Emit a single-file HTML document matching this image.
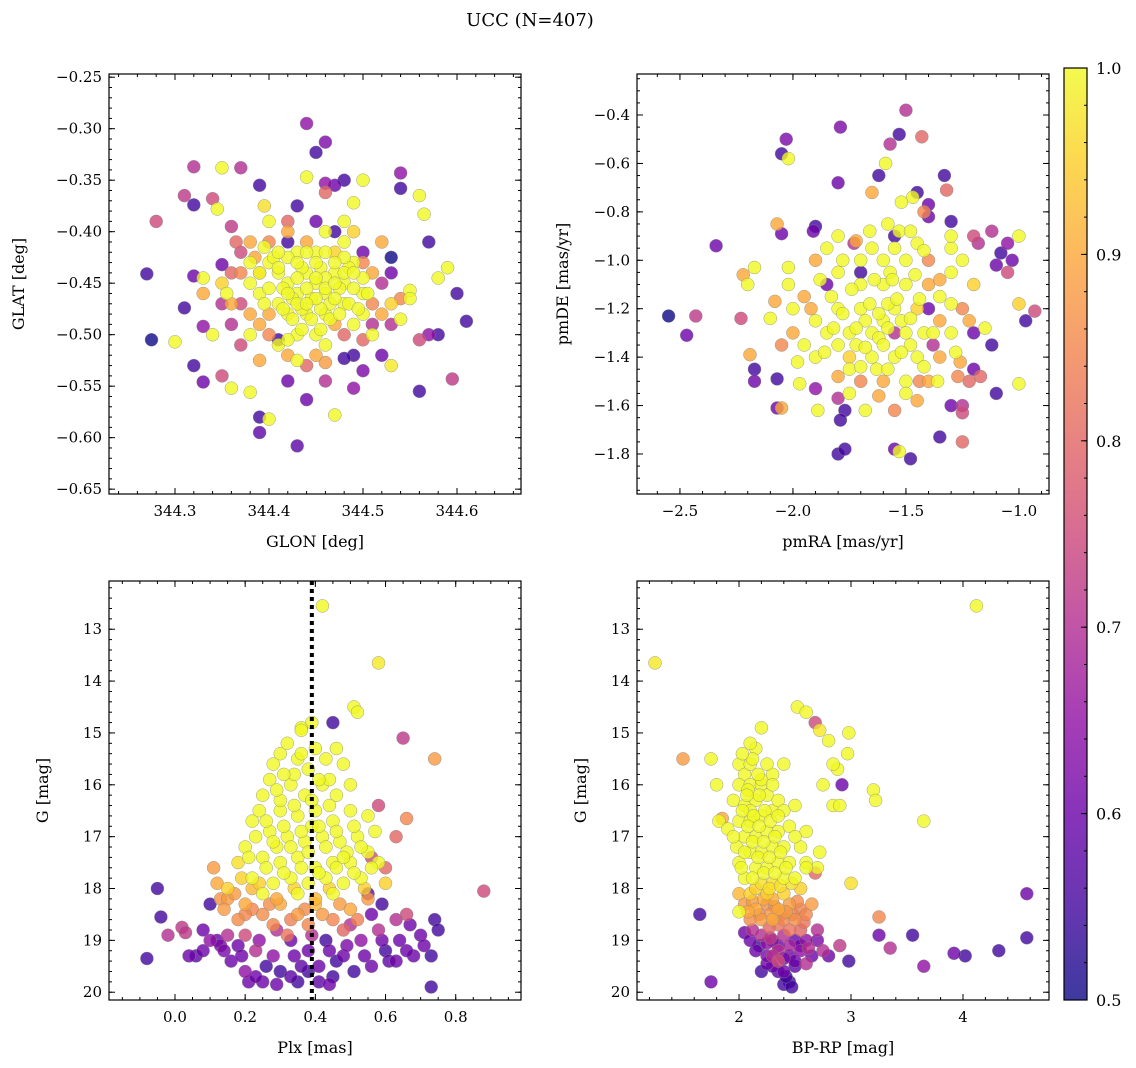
<!DOCTYPE html>
<html><head><meta charset="utf-8"><style>
body{margin:0;background:#fff}
svg{display:block;font-family:"DejaVu Serif","Liberation Serif",serif}
</style></head><body>
<svg id="fig" width="1136" height="1068" viewBox="0 0 1136 1068">
<text x="530" y="26" font-size="18" text-anchor="middle">UCC (N=407)</text>
<g id="root"></g>
</svg>
<script>
// ---------- DATA ----------
const p1Glon=[344.44,344.45,344.46,344.32,344.31,344.32,344.35,344.37,344.34,344.345,344.28,344.39,344.395,344.40,344.36,344.27,344.32,344.33,344.35,344.31,344.33,344.275,344.30,344.32,344.33,344.35,344.36,344.37,344.38,344.39,344.40,344.39,344.43,344.44,344.46,344.47,344.49,344.49,344.50,344.53,344.56,344.595,344.61,344.6,344.58,344.59,344.57,344.53,344.55,344.55,344.56,344.565,344.54,344.54,344.50,344.48,344.47,344.46,344.44,344.46,344.49,344.48,344.43,344.42,344.57,344.56,344.58,344.53,344.54,344.52,344.48,344.46,344.5,344.51,344.42,344.43,344.41,344.38,344.355,344.36,344.37,344.38,344.39,
344.40,344.41,344.42,344.43,344.44,344.45,344.46,344.47,344.48,344.49,344.43,344.45,344.47,344.41,344.42,344.44,344.46,344.48,344.50,344.51,344.52,344.39,344.40,344.38,344.43,344.45,344.47,344.44,344.46,344.42,344.40,344.48,344.50,344.51,344.50,344.41,344.39,344.37,344.36,344.435,344.455,344.445,344.425,344.465,344.415,344.475,344.435,344.455,344.485,344.405,344.395,344.49,344.52,344.53,344.42,344.44,344.38,344.35,344.34,344.45];
const p1Glat=[-0.295,-0.323,-0.313,-0.337,-0.365,-0.374,-0.338,-0.338,-0.368,-0.378,-0.39,-0.355,-0.375,-0.39,-0.395,-0.441,-0.443,-0.445,-0.432,-0.474,-0.492,-0.505,-0.507,-0.53,-0.546,-0.54,-0.552,-0.51,-0.556,-0.58,-0.582,-0.595,-0.608,-0.563,-0.545,-0.578,-0.552,-0.52,-0.535,-0.53,-0.555,-0.543,-0.487,-0.46,-0.445,-0.435,-0.41,-0.425,-0.457,-0.465,-0.365,-0.383,-0.343,-0.358,-0.35,-0.35,-0.355,-0.353,-0.347,-0.362,-0.372,-0.39,-0.375,-0.41,-0.5,-0.505,-0.5,-0.49,-0.485,-0.52,-0.523,-0.527,-0.505,-0.5,-0.545,-0.525,-0.505,-0.5,-0.46,-0.47,-0.42,-0.43,-0.44,
-0.43,-0.44,-0.45,-0.46,-0.44,-0.45,-0.46,-0.44,-0.45,-0.43,-0.42,-0.42,-0.42,-0.47,-0.48,-0.48,-0.48,-0.47,-0.46,-0.44,-0.45,-0.46,-0.48,-0.45,-0.50,-0.50,-0.49,-0.41,-0.40,-0.40,-0.41,-0.41,-0.42,-0.47,-0.48,-0.51,-0.49,-0.47,-0.44,-0.435,-0.435,-0.465,-0.465,-0.47,-0.455,-0.455,-0.475,-0.475,-0.435,-0.425,-0.47,-0.49,-0.41,-0.47,-0.52,-0.53,-0.41,-0.47,-0.50,-0.39];
const p1Prob=[0.65,0.55,0.62,0.7,0.72,0.55,1,0.7,0.75,1,0.75,0.55,0.97,1,0.72,0.55,0.6,1,0.6,0.55,0.65,0.5,1,0.55,0.6,0.75,1,0.75,1,0.55,1,0.58,0.58,0.6,0.7,1,0.65,0.55,0.62,0.98,0.55,0.72,0.55,0.55,1,1,0.55,0.5,1,1,1,1,0.65,0.55,1,0.55,0.6,0.65,1,0.8,1,1,0.55,0.55,0.65,0.75,0.55,0.7,1,0.6,0.55,0.88,0.8,1,0.6,1,0.55,1,1,0.9,0.75,1,0.9,
1,1,1,1,1,1,1,1,1,1,1,1,0.95,1,1,1,1,1,1,0.9,0.7,1,0.9,1,1,1,0.9,0.9,1,0.9,0.85,1,0.6,0.85,1,1,0.9,0.75,0.8,1,1,1,1,1,1,1,1,1,1,1,1,1,0.9,0.95,0.9,0.8,0.9,0.7,1,0.6];
const p1GlonCore=[344.41,344.42,344.43,344.44,344.45,344.46,344.47,344.48,344.49,344.50,344.415,344.425,344.435,344.445,344.455,344.465,344.475,344.485,344.495,344.505,344.40,344.39,344.385,344.395,344.41,344.43,344.45,344.47,344.46,344.44,344.42,344.43,344.44,344.45,344.46,344.47,344.48,344.49,344.50,344.38,344.37,344.365,344.52,344.53,344.51,344.40,344.42,344.46,344.48,344.45,344.36,344.33,344.35,344.54,344.39,344.47,344.42,344.49];
const p1GlatCore=[-0.435,-0.425,-0.445,-0.455,-0.465,-0.445,-0.465,-0.425,-0.455,-0.445,-0.475,-0.485,-0.495,-0.485,-0.495,-0.485,-0.48,-0.47,-0.475,-0.46,-0.455,-0.44,-0.425,-0.415,-0.42,-0.43,-0.43,-0.43,-0.42,-0.42,-0.46,-0.47,-0.47,-0.445,-0.455,-0.45,-0.44,-0.44,-0.43,-0.48,-0.44,-0.41,-0.48,-0.44,-0.49,-0.50,-0.505,-0.51,-0.50,-0.52,-0.49,-0.46,-0.45,-0.465,-0.525,-0.40,-0.39,-0.40];
const p1ProbCore=[1,1,1,1,1,1,1,1,1,1,1,1,1,1,1,1,1,1,1,1,1,1,0.9,1,1,1,1,1,1,1,1,1,1,1,1,1,1,1,0.85,0.9,0.85,0.8,0.9,0.6,0.7,0.85,1,1,0.8,0.9,0.7,0.9,0.95,0.85,0.9,0.55,0.8,0.95];

const p2Pmra=[-1.50,-1.43,-1.53,-1.79,-2.03,-2.05,-2.02,-1.57,-1.59,-1.62,-1.80,-1.33,-1.32,-1.45,-1.47,-1.65,-1.52,-1.40,-1.42,-1.40,-1.30,-2.07,-2.05,-1.90,-1.91,-1.80,-1.73,-1.55,-1.53,-1.20,-1.12,-1.05,-1.00,-1.08,-1.18,-0.75,-2.34,-2.02,-2.17,-2.22,-2.20,-2.08,-2.55,-2.43,-2.47,-2.23,-2.10,-2.19,-2.17,-2.17,-2.07,-1.97,-1.90,-2.07,-2.05,-1.89,-1.80,-1.77,-1.79,-1.80,-1.77,-1.55,-1.53,-1.48,-1.35,-1.25,-1.25,-1.25,-1.30,-1.22,-1.20,-1.10,-1.00,-0.93,-0.97,-1.00,-0.80,-1.05,-1.10,-1.03,-1.25,-1.30,-1.20,-1.12,-1.15,-1.17,-1.27,-1.38,
-1.6,-1.55,-1.65,-1.7,-1.5,-1.45,-1.75,-1.6,-1.5,-1.7,-1.4,-1.8,-1.85,-1.55,-1.65,-1.75,-1.45,-1.35,-1.9,-1.6,-1.5,-1.7,-1.4,-1.8,-1.95,-1.35,-1.3,-1.9,-1.6,-1.5,-1.7,-1.4,-1.58,-1.62,-1.52,-1.68,-1.48,-1.72,-1.57,-1.63,-1.83,-1.42,-2.0,-1.95,-1.25,-1.3,-1.85,-1.45,-1.55,-1.65,-1.75,-1.8,-1.35,-2.0,-1.78,-1.85,-1.7,-1.4,-1.55];
const p2Pmde=[-0.38,-0.49,-0.48,-0.45,-0.50,-0.56,-0.58,-0.52,-0.60,-0.65,-0.68,-0.65,-0.71,-0.72,-0.74,-0.72,-0.76,-0.77,-0.80,-0.82,-0.84,-0.85,-0.89,-0.86,-0.88,-0.90,-0.93,-0.90,-0.88,-0.90,-0.88,-0.93,-0.90,-0.97,-0.93,-0.95,-0.94,-1.03,-1.03,-1.06,-1.10,-1.17,-1.23,-1.23,-1.31,-1.24,-1.24,-1.39,-1.50,-1.45,-1.49,-1.51,-1.53,-1.61,-1.61,-1.62,-1.57,-1.62,-1.66,-1.80,-1.78,-1.78,-1.79,-1.82,-1.73,-1.75,-1.63,-1.60,-1.60,-1.50,-1.45,-1.55,-1.51,-1.21,-1.25,-1.18,-1.08,-1.05,-1.02,-1.00,-1.00,-0.95,-1.30,-1.35,-1.28,-1.48,-1.48,-1.35,
-1.25,-1.2,-1.3,-1.2,-1.3,-1.2,-1.3,-1.1,-1.1,-1.1,-1.1,-1.2,-1.3,-1.4,-1.4,-1.4,-1.4,-1.25,-1.25,-1.0,-1.0,-1.0,-1.0,-1.05,-1.15,-1.15,-1.3,-1.4,-1.5,-1.5,-1.5,-1.5,-1.18,-1.32,-1.25,-1.25,-1.35,-1.35,-1.05,-1.45,-1.15,-1.3,-1.3,-1.35,-1.2,-1.05,-0.95,-0.93,-0.95,-0.95,-1.45,-1.35,-1.4,-1.2,-1.0,-1.1,-1.05,-1.2,-1.3];
const p2Prob=[0.7,0.8,0.55,0.62,0.62,0.55,1,0.7,1,0.55,0.6,0.55,0.8,0.55,1,0.9,1,0.6,0.85,0.6,0.55,0.9,0.6,0.55,0.6,1,0.7,0.55,1,0.75,0.7,0.65,1,0.55,0.7,0.55,0.6,1,1,0.9,1,0.9,0.5,0.72,0.6,0.75,1,0.9,0.6,0.55,0.55,1,0.65,0.6,0.9,1,0.7,0.55,0.55,0.55,0.55,0.6,1,0.55,0.55,0.8,0.75,0.7,0.6,0.8,0.6,0.55,1,0.75,0.55,0.95,0.6,0.75,0.6,0.6,1,1,0.6,0.55,1,0.8,0.85,0.7,
1,1,1,1,1,0.95,1,1,1,1,0.9,1,1,1,1,0.95,1,0.9,1,1,1,1,0.85,1,0.9,1,1,1,0.9,1,0.85,0.9,1,1,1,1,1,1,1,1,1,1,0.9,1,0.85,1,1,1,1,1,1,1,0.9,1,1,0.6,0.55,0.6,0.7];
const p2PmraCore=[-1.62,-1.58,-1.66,-1.54,-1.72,-1.48,-1.68,-1.52,-1.78,-1.44,-1.6,-1.64,-1.56,-1.46,-1.74,-1.82,-1.38,-1.42,-1.58,-1.7,-1.86,-1.92,-1.88,-1.35,-1.3,-1.28,-1.5,-1.62,-1.75,-1.45,-1.36,-1.98,-2.02,-1.66,-1.58,-1.48,-1.42,-1.72,-1.9,-1.2,-1.22,-1.8,-2.05,-1.55,-1.68,-1.44,-1.26,-1.3];
const p2PmdeCore=[-1.22,-1.28,-1.18,-1.16,-1.28,-1.24,-1.36,-1.38,-1.22,-1.16,-1.35,-1.08,-1.08,-1.06,-1.12,-1.28,-1.3,-1.44,-1.45,-1.44,-1.38,-1.2,-1.08,-1.08,-1.18,-1.38,-1.55,-1.56,-1.55,-1.58,-1.5,-1.42,-1.1,-0.88,-0.85,-0.88,-0.96,-0.92,-1.0,-1.1,-1.25,-1.48,-1.35,-1.62,-1.62,-1.5,-1.42,-0.9];
const p2ProbCore=[1,1,1,1,1,1,1,1,1,1,1,1,1,1,1,1,1,1,1,1,1,0.9,1,0.9,1,1,1,0.9,1,0.9,1,1,1,1,1,1,1,0.9,0.9,0.95,0.9,0.9,0.85,0.85,1,0.85,0.9,1];

const p3Plx=[0.42,0.58,0.51,0.52,0.45,0.39,0.65,0.74,0.36,0.88,0.73,-0.08,-0.05,-0.04,-0.02,0.02,0.03,0.04,0.1,0.11,0.66,0.63,0.58,0.56,0.6,0.74,0.75,0.73,0.68,0.66,0.38,0.41,0.44,0.35,0.2,0.21,0.25,0.29,0.12,0.13,0.14,0.08,
0.3,0.28,0.32,0.35,0.4,0.38,0.43,0.46,0.48,0.27,0.33,0.37,0.42,0.46,0.5,0.25,0.3,0.35,0.4,0.45,0.5,0.55,0.22,0.27,0.32,0.37,0.42,0.47,0.52,0.2,0.25,0.3,0.35,0.4,0.45,0.5,0.55,0.18,0.22,0.28,0.33,0.38,0.43,0.48,0.53,0.15,0.6,0.25,0.35,0.45,0.3,0.44,0.34,0.39,0.29,0.49,0.57,0.24,0.58,0.36,
0.15,0.2,0.25,0.3,0.35,0.4,0.45,0.5,0.55,0.18,0.28,0.38,0.12,0.22,0.42,0.48,0.32,0.14,
0.1,0.18,0.23,0.28,0.33,0.38,0.43,0.48,0.53,0.58,0.6,0.63,0.66,0.56,0.16,0.26,0.36,0.46,0.56,0.61,0.2,0.5,0.64,0.7,0.08,0.06,0.3,0.45,0.55,0.59];
const p3G=[12.55,13.65,14.5,14.6,14.8,14.8,15.1,15.5,14.9,18.05,19.9,19.35,18.0,18.55,18.9,18.75,18.85,19.3,18.3,17.6,16.65,17.0,16.4,17.4,17.6,18.6,18.8,19.3,19.3,19.2,19.6,19.8,19.85,19.8,19.6,19.8,19.8,19.85,19.0,19.1,19.2,19.2,
15.4,15.6,15.2,15.5,15.3,15.7,15.5,15.3,15.6,15.9,16.0,16.2,16.0,16.2,16.0,16.2,16.5,16.6,16.5,16.7,16.5,16.6,16.7,16.9,17.0,17.1,17.0,17.1,17.0,17.2,17.4,17.5,17.4,17.6,17.5,17.5,17.3,17.5,17.8,17.9,17.8,17.9,17.8,17.9,17.8,18.0,17.9,18.1,18.1,18.1,16.3,15.9,15.8,16.8,17.2,17.3,16.9,16.5,17.5,14.95,
18.2,18.3,18.5,18.3,18.5,18.3,18.6,18.4,18.2,18.6,18.7,18.7,17.9,18.0,18.5,18.8,18.9,18.4,
19.0,19.1,19.2,19.3,19.0,19.2,19.0,19.3,19.0,18.8,19.2,18.6,18.5,18.5,19.4,19.5,19.5,19.4,19.5,19.4,18.9,18.7,19.0,18.9,18.8,19.3,19.6,19.7,18.1,18.3];
const p3Prob=[1,0.98,1,1,0.55,1,0.72,0.88,1,0.75,0.55,0.55,0.55,0.55,0.7,0.72,0.72,0.6,0.55,0.88,0.85,0.8,0.75,0.75,0.8,0.55,0.55,0.55,0.6,0.6,0.55,0.58,0.6,0.55,0.65,0.6,0.6,0.6,0.6,0.62,0.62,0.6,
1,1,1,1,1,1,1,1,1,1,1,1,1,1,1,1,1,1,1,1,1,1,1,1,1,1,1,1,1,1,1,1,1,1,1,1,1,0.97,1,1,1,1,1,1,1,0.95,0.95,1,1,1,1,1,1,1,1,1,1,1,1,1,
0.88,0.9,0.86,0.9,0.88,0.92,0.85,0.9,0.88,0.86,0.85,0.85,0.9,0.92,0.88,0.8,0.82,0.88,
0.65,0.6,0.7,0.65,0.6,0.6,0.55,0.6,0.65,0.7,0.55,0.7,0.75,0.6,0.6,0.55,0.58,0.55,0.6,0.58,0.75,0.7,0.6,0.6,0.6,0.58,0.55,0.55,0.6,0.55];
const p3PlxCore=[0.31,0.36,0.41,0.29,0.34,0.39,0.44,0.26,0.31,0.36,0.41,0.46,0.51,0.23,0.28,0.33,0.38,0.43,0.48,0.53,0.21,0.26,0.31,0.36,0.41,0.46,0.51,0.56,0.19,0.24,0.34,0.44,0.54,0.4,0.29,
0.17,0.22,0.27,0.33,0.37,0.47,0.52,0.2,0.13,
0.24,0.34,0.44,0.54,0.29,0.39,0.49,0.59,0.15,0.19,0.41,0.51,0.33,0.23,0.63,0.67,0.71];
const p3GCore=[15.8,15.4,15.9,16.1,16.4,16.3,16.4,16.7,16.8,16.9,16.8,16.9,16.8,17.0,17.1,17.2,17.3,17.2,17.4,17.2,17.4,17.6,17.7,17.6,17.7,17.6,17.7,17.6,17.8,17.9,18.0,18.0,18.0,18.2,18.2,
18.1,18.4,18.3,18.6,18.4,18.3,18.6,18.5,18.2,
19.0,19.3,19.2,19.3,18.8,18.9,19.1,19.0,18.9,19.3,19.5,19.6,19.7,19.7,19.4,18.7,19.1];
const p3ProbCore=[1,1,1,1,1,1,1,1,1,1,1,1,1,1,1,1,1,1,1,1,1,1,1,1,1,1,1,1,0.95,0.95,0.95,0.95,0.95,0.92,0.9,
0.88,0.85,0.86,0.84,0.86,0.88,0.84,0.85,0.87,
0.65,0.6,0.6,0.6,0.7,0.7,0.62,0.6,0.7,0.6,0.6,0.55,0.58,0.6,0.6,0.6,0.6];

const p4Color=[4.12,1.25,1.5,1.75,1.65,1.75,4.57,4.57,4.32,4.02,3.92,3.65,3.55,3.35,3.25,3.25,2.98,3.0,3.65,3.2,3.22,2.98,2.97,2.84,2.9,2.88,2.84,2.8,2.72,2.52,2.6,2.68,2.92,2.75,1.8,1.82,1.85,1.9,2.72,2.7,2.68,2.6,2.0,2.05,2.12,
2.0,2.05,2.1,2.0,2.1,2.2,1.95,2.05,2.15,2.25,2.0,2.1,2.2,2.3,2.05,2.15,2.25,2.35,2.1,2.2,2.3,2.4,2.15,2.25,2.35,2.45,2.2,2.3,2.4,2.5,2.0,2.05,2.1,2.25,2.4,2.55,2.2,2.3,2.15,2.1,1.98,2.45,2.55,2.6,2.5,2.35,2.05,2.1,1.95,2.4,2.2,
2.05,2.15,2.25,2.35,2.45,2.55,2.1,2.2,2.3,2.4,2.5,2.6,2.0,2.3,2.45,2.65,
2.2,2.3,2.4,2.5,2.6,2.7,2.15,2.25,2.35,2.45,2.55,2.65,2.75,2.2,2.3,2.4,2.5,2.45,2.4,2.47,2.8,2.9,2.35,2.6,2.1,2.55];
const p4G=[12.55,13.65,15.5,15.5,18.5,19.8,18.1,18.95,19.2,19.3,19.25,19.5,18.9,19.15,18.9,18.55,19.4,17.9,16.7,16.1,16.3,15.0,15.4,16.4,16.4,15.7,15.6,15.15,14.95,14.5,14.6,14.8,16.0,16.0,16.0,16.7,16.65,16.85,17.3,17.6,17.7,17.5,18.45,18.85,18.8,
15.6,15.8,15.6,16.0,16.0,16.0,16.3,16.4,16.3,16.2,16.7,16.7,16.6,16.5,17.0,17.0,16.9,16.9,17.3,17.3,17.2,17.2,17.6,17.6,17.5,17.5,17.9,17.9,17.8,17.8,17.5,17.8,18.1,18.1,18.1,18.0,15.9,15.8,15.3,16.5,17.2,16.8,17.2,16.9,16.4,16.3,17.3,15.2,17.0,15.6,14.9,
18.3,18.4,18.3,18.4,18.3,18.4,18.6,18.6,18.6,18.6,18.6,18.5,18.1,18.2,18.8,18.3,
18.9,19.0,18.9,19.0,19.0,18.8,19.2,19.3,19.2,19.3,19.2,19.3,19.2,19.6,19.5,19.6,19.5,19.8,19.85,19.9,19.3,19.1,19.4,19.45,19.0,18.8];
const p4Prob=[1,0.98,0.88,1,0.55,0.6,0.6,0.55,0.55,0.55,0.6,0.65,0.55,0.7,0.6,0.85,0.55,0.97,1,1,1,1,1,1,1,1,1,1,0.98,1,1,0.75,0.6,1,1,1,0.9,1,1,1,0.8,1,1,0.6,0.7,
1,1,1,1,1,1,1,1,1,1,1,1,1,1,1,1,1,1,1,1,1,1,1,1,1,1,0.97,0.97,1,1,1,1,0.95,0.95,0.95,0.95,1,1,1,1,1,1,1,1,1,1,1,1,1,1,1,
0.88,0.9,0.86,0.9,0.88,0.85,0.86,0.88,0.9,0.85,0.86,0.85,0.92,0.9,0.82,0.88,
0.7,0.65,0.7,0.6,0.65,0.7,0.6,0.62,0.7,0.6,0.65,0.6,0.7,0.55,0.6,0.6,0.58,0.55,0.55,0.55,0.6,0.72,0.75,0.7,0.6,0.8];
const p4ColorCore=[2.08,2.18,2.03,2.13,2.23,2.08,2.18,2.28,2.12,2.22,2.32,2.17,2.27,2.37,2.22,2.32,2.42,2.27,2.37,2.47,2.12,2.02,2.07,2.17,2.12,2.03,2.25,2.3,2.4,2.5,2.6,2.15,2.35,
2.12,2.22,2.32,2.42,2.52,2.18,2.28,2.38,2.48,2.58,2.08,2.35,2.27,
2.25,2.35,2.45,2.55,2.3,2.4,2.5,2.25,2.35,2.28,2.62,2.7,2.18,2.42];
const p4GCore=[16.1,16.2,16.5,16.6,16.5,16.8,16.8,16.7,17.1,17.1,17.0,17.4,17.4,17.3,17.7,17.7,17.6,18.0,17.95,17.9,17.8,17.6,16.2,15.8,15.5,15.4,15.6,16.0,16.5,17.0,17.6,18.0,16.6,
18.25,18.2,18.35,18.45,18.25,18.5,18.5,18.5,18.5,18.65,18.45,18.7,18.75,
19.05,19.1,19.1,19.1,19.3,19.35,19.4,19.45,19.6,18.95,19.15,19.0,19.1,19.7];
const p4ProbCore=[1,1,1,1,1,1,1,1,1,1,1,1,1,1,1,1,1,0.97,0.97,0.97,1,1,1,1,1,1,1,1,1,1,1,0.95,1,
0.88,0.9,0.86,0.88,0.86,0.85,0.87,0.84,0.85,0.82,0.9,0.82,0.8,
0.65,0.6,0.68,0.6,0.7,0.62,0.6,0.6,0.58,0.72,0.7,0.62,0.55,0.55];

const p1XTicks=[344.3,344.4,344.5,344.6];
const p1YTicks=[-0.25,-0.30,-0.35,-0.40,-0.45,-0.50,-0.55,-0.60,-0.65];
const p2XTicks=[-2.5,-2.0,-1.5,-1.0];
const p2YTicks=[-0.4,-0.6,-0.8,-1.0,-1.2,-1.4,-1.6,-1.8];
const p3XTicks=[0.0,0.2,0.4,0.6,0.8];
const gYTicks=[13,14,15,16,17,18,19,20];
const p4XTicks=[2,3,4];
const cbTicks=[0.5,0.6,0.7,0.8,0.9,1.0];
const plxRef=[0.39];

// ---------- RENDER ----------
const NS='http://www.w3.org/2000/svg';
const root=document.getElementById('root');
function mk(tag,attrs,parent){const e=document.createElementNS(NS,tag);for(const k in attrs)e.setAttribute(k,attrs[k]);(parent||root).appendChild(e);return e;}
const stops=[[0,[13,8,135]],[0.1,[65,4,157]],[0.2,[106,0,168]],[0.3,[143,13,164]],[0.4,[177,42,144]],[0.5,[204,71,120]],[0.6,[225,100,98]],[0.7,[242,132,75]],[0.8,[252,166,54]],[0.9,[252,206,37]],[1,[240,249,33]]];
function plasma(t){t=Math.max(0,Math.min(1,t));for(let i=1;i<stops.length;i++){if(t<=stops[i][0]){const a=stops[i-1],b=stops[i];const f=(t-a[0])/(b[0]-a[0]);const c=a[1].map((v,j)=>Math.round(v+(b[1][j]-v)*f));return `rgb(${c[0]},${c[1]},${c[2]})`;}}return 'rgb(240,249,33)';}
const cmin=0.5,cmax=1.0;
function fmt(v,d){return (v<0?'\u2212':'')+Math.abs(v).toFixed(d);}

function panel(o){
  const g=mk('g',{});
  
  
  const X=v=>o.L+(v-o.x0)/(o.x1-o.x0)*(o.R-o.L);
  const Y=v=>o.T+(v-o.y0)/(o.y1-o.y0)*(o.B-o.T);
  const clipId='clip-'+o.name;
  const cp=mk('clipPath',{id:clipId},g);mk('rect',{x:o.L,y:o.T,width:o.R-o.L,height:o.B-o.T},cp);
  const pts=mk('g',{'clip-path':`url(#${clipId})`},g);
  
  
  const idx=o.xs.map((_,i)=>i).sort((a,b)=>o.cs[a]-o.cs[b]);
  idx.forEach(i=>{
    const c=mk('circle',{cx:X(o.xs[i]).toFixed(1),cy:Y(o.ys[i]).toFixed(1),r:6.5,fill:plasma((o.cs[i]-cmin)/(cmax-cmin)),'fill-opacity':0.8,stroke:'#888','stroke-width':0.4},pts);
    
    
  });
  if(o.vline){o.vline.forEach(v=>{const l=mk('line',{x1:X(v),x2:X(v),y1:o.T,y2:o.B,stroke:'#000','stroke-width':4,'stroke-dasharray':'4,4'},g);
    
    });}
  const tk=mk('g',{stroke:'#000','stroke-width':1},g);
  const xmin=Math.min(o.x0,o.x1),xmax=Math.max(o.x0,o.x1);
  for(let v=Math.ceil(xmin/o.xm-1e-6)*o.xm;v<=xmax+1e-9;v+=o.xm){const x=X(v);mk('line',{x1:x,x2:x,y1:o.B,y2:o.B-3},tk);mk('line',{x1:x,x2:x,y1:o.T,y2:o.T+3},tk);}
  const ymin=Math.min(o.y0,o.y1),ymax=Math.max(o.y0,o.y1);
  for(let v=Math.ceil(ymin/o.ym-1e-6)*o.ym;v<=ymax+1e-9;v+=o.ym){const y=Y(v);mk('line',{x1:o.L,x2:o.L+3,y1:y,y2:y},tk);mk('line',{x1:o.R,x2:o.R-3,y1:y,y2:y},tk);}
  o.xt.forEach(v=>{const x=X(v);mk('line',{x1:x,x2:x,y1:o.B,y2:o.B-6},tk);mk('line',{x1:x,x2:x,y1:o.T,y2:o.T+6},tk);
    const t=mk('text',{x:x,y:o.B+22,'font-size':15,'text-anchor':'middle'},g);t.textContent=fmt(v,o.xd);
    
    });
  o.yt.forEach(v=>{const y=Y(v);mk('line',{x1:o.L,x2:o.L+6,y1:y,y2:y},tk);mk('line',{x1:o.R,x2:o.R-6,y1:y,y2:y},tk);
    const t=mk('text',{x:o.L-7,y:y+5,'font-size':15,'text-anchor':'end'},g);t.textContent=fmt(v,o.yd);
    
    });
  const fr=mk('rect',{x:o.L,y:o.T,width:o.R-o.L,height:o.B-o.T,fill:'none',stroke:'#000','stroke-width':1.2},g);
  
  
  const xl=mk('text',{x:(o.L+o.R)/2,y:o.B+53,'font-size':16,'text-anchor':'middle'},g);xl.textContent=o.xlab;
  
  
  const yx=o.ylx,yy=(o.T+o.B)/2;
  const yl=mk('text',{x:yx,y:yy,'font-size':16,'text-anchor':'middle',transform:`rotate(-90 ${yx} ${yy})`},g);yl.textContent=o.ylab;
  
  
}
panel({name:'glon-glat-panel',L:109,R:521,T:74,B:494,x0:344.2298,x1:344.6681,y0:-0.2469,y1:-0.6547,xs:p1Glon.concat(p1GlonCore),ys:p1Glat.concat(p1GlatCore),cs:p1Prob.concat(p1ProbCore),xt:p1XTicks,yt:p1YTicks,xd:1,yd:2,xm:0.02,ym:0.01,xlab:'GLON [deg]',ylab:'GLAT [deg]',ylx:24});
panel({name:'pm-panel',L:637,R:1049,T:74,B:494,x0:-2.690,x1:-0.867,y0:-0.2306,y1:-1.9653,xs:p2Pmra.concat(p2PmraCore),ys:p2Pmde.concat(p2PmdeCore),cs:p2Prob.concat(p2ProbCore),xt:p2XTicks,yt:p2YTicks,xd:1,yd:1,xm:0.1,ym:0.05,xlab:'pmRA [mas/yr]',ylab:'pmDE [mas/yr]',ylx:568});
panel({name:'plx-g-panel',L:109,R:521,T:581,B:1000,x0:-0.188,x1:0.986,y0:12.07,y1:20.15,xs:p3Plx.concat(p3PlxCore),ys:p3G.concat(p3GCore),cs:p3Prob.concat(p3ProbCore),xt:p3XTicks,yt:gYTicks,xd:1,yd:0,xm:0.05,ym:0.2,xlab:'Plx [mas]',ylab:'G [mag]',ylx:48,vline:plxRef});
panel({name:'cmd-panel',L:637,R:1049,T:581,B:1000,x0:1.089,x1:4.768,y0:12.07,y1:20.15,xs:p4Color.concat(p4ColorCore),ys:p4G.concat(p4GCore),cs:p4Prob.concat(p4ProbCore),xt:p4XTicks,yt:gYTicks,xd:0,yd:0,xm:0.2,ym:0.2,xlab:'BP-RP [mag]',ylab:'G [mag]',ylx:586});

// colorbar
const cb=mk('g',{});


const defs=mk('defs',{},cb);
const lg=mk('linearGradient',{id:'cbg',x1:0,y1:1,x2:0,y2:0},defs);
for(let i=0;i<=20;i++){mk('stop',{offset:i/20,'stop-color':plasma(i/20),'stop-opacity':0.8},lg);}
const cL=1064,cR=1087,cT=68,cB=1000;
mk('rect',{x:cL,y:cT,width:cR-cL,height:cB-cT,fill:'url(#cbg)',stroke:'#000','stroke-width':1.2},cb);
const CY=v=>cB-(v-cmin)/(cmax-cmin)*(cB-cT);
for(let v=0.5;v<=1.0001;v+=0.02){mk('line',{x1:cR,x2:cR-3,y1:CY(v),y2:CY(v),stroke:'#000'},cb);}
cbTicks.forEach(v=>{mk('line',{x1:cR,x2:cR-6,y1:CY(v),y2:CY(v),stroke:'#000'},cb);
  const t=mk('text',{x:cR+9,y:CY(v)+6,'font-size':16},cb);t.textContent=v.toFixed(1);
  
  });
</script>
</body></html>
